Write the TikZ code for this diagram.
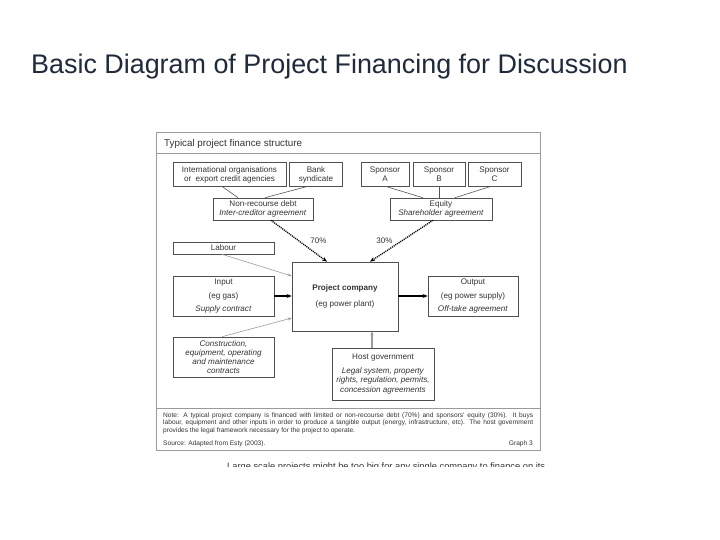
\documentclass[tikz,border=0pt]{standalone}
\usepackage{fontspec}
\setmainfont{Liberation Sans}
\usetikzlibrary{arrows.meta}
\definecolor{titlecol}{HTML}{1F2A3A}
\definecolor{boxcol}{HTML}{505050}
\definecolor{txtcol}{HTML}{333333}
\definecolor{framecol}{HTML}{9A9A9A}
\definecolor{linecol}{HTML}{555555}
\definecolor{lightline}{HTML}{9C9C9C}
\tikzset{
  fbox/.style={draw=boxcol, line width=0.6pt, fill=white, inner sep=1pt, align=center, text=txtcol,
    font=\fontsize{8.1}{9.1}\selectfont},
  conn/.style={draw=linecol, line width=0.6pt},
  thinarr/.style={draw=lightline, line width=0.6pt, -{Stealth[length=4pt,width=3pt,fill=black]}},
  thickarr/.style={draw=black, line width=1.3pt, -{Stealth[length=5pt,width=4pt]}},
  dotarr/.style={draw=black, line width=1.3pt, dash pattern=on 1.1pt off 0.9pt, -{Stealth[length=5pt,width=4pt]}},
  grayarr/.style={draw=lightline, line width=1.3pt, -{Stealth[length=4pt,width=3pt,fill=black]}},
  note/.style={anchor=west, inner sep=0pt, text=txtcol, font=\fontsize{6.6}{7.5}\selectfont},
  pct/.style={inner sep=0pt, text=txtcol, font=\fontsize{8}{9}\selectfont}
}
\begin{document}
\begin{tikzpicture}[x=1pt,y=-1pt]
\useasboundingbox (0,0) rectangle (720,540);
\fill[white] (0,0) rectangle (720,540);
% main title
\node[anchor=west, inner sep=0pt, text=titlecol, font=\fontsize{26.9}{30}\selectfont] (title) at (31,67) {Basic Diagram of Project Financing for Discussion};
% frame
\draw[framecol, line width=1pt] (156,133) rectangle (540,450);
\draw[framecol, line width=0.8pt] (156,153) -- (540,153);
\draw[framecol, line width=0.8pt] (156,408) -- (540,408);
\node[anchor=west, inner sep=0pt, text=txtcol, font=\fontsize{9.8}{11}\selectfont] (hdr) at (164,144) {Typical project finance structure};
% top boxes
\node[fbox, minimum width=113pt, minimum height=24pt] (intl) at (229.5,174.5) {International organisations\\or\ \ export credit agencies};
\node[fbox, minimum width=53pt, minimum height=24pt] (bank) at (316,174.5) {Bank\\syndicate};
\node[fbox, minimum width=48pt, minimum height=24pt] (spa) at (385,174.5) {Sponsor\\A};
\node[fbox, minimum width=52pt, minimum height=24pt] (spb) at (439,174.5) {Sponsor\\B};
\node[fbox, minimum width=53pt, minimum height=24pt] (spc) at (494.5,174.5) {Sponsor\\C};
\node[fbox, minimum width=100pt, minimum height=22pt] (nrd) at (263,209) {Non-recourse debt\\\textit{Inter-creditor agreement}};
\node[fbox, minimum width=102pt, minimum height=22pt] (eq) at (441,209) {Equity\\\textit{Shareholder agreement}};
% middle boxes
\node[fbox, minimum width=101pt, minimum height=12pt] (lab) at (223.5,248) {Labour};
\node[fbox, minimum width=101pt, minimum height=40pt] (inp) at (223.5,296) {Input\\[4.2pt](eg gas)\\[4pt]\textit{Supply contract}};
\node[fbox, minimum width=106pt, minimum height=69pt] (pc) at (345,296.5) {\textbf{Project company}\\[6.6pt](eg power plant)};
\node[fbox, minimum width=90pt, minimum height=40pt] (out) at (473,296) {Output\\[4.2pt](eg power supply)\\[4pt]\textit{Off-take agreement}};
\node[fbox, minimum width=101pt, minimum height=40pt, font=\fontsize{8.1}{9.2}\selectfont] (con) at (223.5,357) {\textit{Construction,}\\\textit{equipment, operating}\\\textit{and maintenance}\\\textit{contracts}};
\node[fbox, minimum width=102pt, minimum height=52pt, font=\fontsize{8.1}{9.6}\selectfont] (host) at (383,374) {Host government\\[4.5pt]\textit{Legal system, property}\\\textit{rights, regulation, permits,}\\\textit{concession agreements}};
% connectors top
\draw[conn] ([xshift=-7pt]intl.south) -- ([xshift=-25pt]nrd.north);
\draw[conn] ([xshift=-10pt]bank.south) -- ([xshift=2pt]nrd.north);
\draw[conn] ([xshift=2pt]spa.south) -- ([xshift=-18pt]eq.north);
\draw[conn] (spb.south) -- (spb.south |- eq.north);
\draw[conn] ([xshift=-5pt]spc.south) -- ([xshift=14pt]eq.north);
% dotted arrows
\draw[dotarr] ([xshift=8pt]nrd.south) -- ([xshift=-18pt]pc.north);
\draw[dotarr] ([xshift=-8pt]eq.south) -- ([xshift=25pt]pc.north);
\node[pct] (p70) at (318.5,241) {70\%};
\node[pct] (p30) at (384.5,241) {30\%};
% side arrows
\draw[thinarr] ([xshift=-1.5pt]lab.south) -- ([yshift=20.5pt]pc.west);
\draw[thickarr] (inp.east) -- (inp.east -| pc.west);
\draw[thinarr] ([xshift=-1.5pt]con.north) -- ([yshift=-21.5pt]pc.west);
\draw[thickarr] (pc.east |- out.west) -- (out.west);
\draw[grayarr] ([xshift=-11pt]host.north) -- ([xshift=-11pt]host.north |- pc.south);
% note
\node[note] (n1) at (163,415.5) {\hbox to 370pt{Note: A typical project company is financed with limited or non-recourse debt (70\%) and sponsors' equity (30\%). It buys}};
\node[note] (n2) at (163,423.2) {\hbox to 370pt{labour, equipment and other inputs in order to produce a tangible output (energy, infrastructure, etc). The host government}};
\node[note] (n3) at (163,430.9) {provides the legal framework necessary for the project to operate.};
\node[note] (src) at (163,443.5) {Source: Adapted from Esty (2003).};
\node[note, anchor=east] (gr) at (533,443.5) {Graph 3};
% cut-off text below
\begin{scope}
\clip (150,455) rectangle (620,466.3);
\node[anchor=base west, inner sep=0pt, text=txtcol, font=\fontsize{9.3}{10.5}\selectfont] (large) at (227,469.2) {Large scale projects might be too big for any single company to finance on its};
\end{scope}
\end{tikzpicture}
\end{document}
